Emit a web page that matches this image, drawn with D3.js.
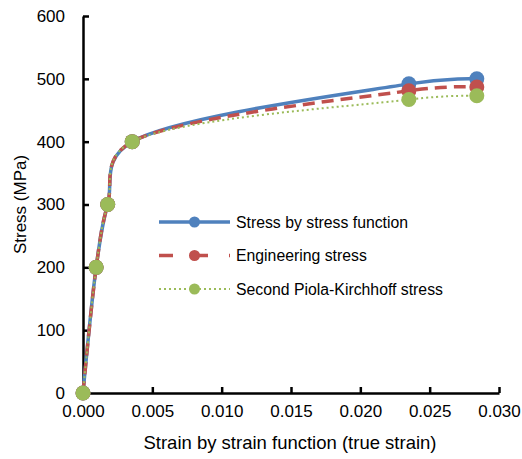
<html>
<head>
  <script src="https://d3js.org/d3.v7.min.js"></script>
  <style>
    body { margin: 0; padding: 0; background: white; overflow: hidden; }
    svg { font-family: "Liberation Sans", Arial, sans-serif; }
  </style>
</head>
<body>
  <svg width="522" height="459"></svg>
  <script>
    // strain values (true strain)
    const strain = [0, 0.00095, 0.00178, 0.00355, 0.0235, 0.0284];
    const stressFunction = [0, 200, 300, 400, 492, 500];
    const engineeringStress = [0, 200, 300, 400, 481, 487];
    const piolaStress = [0, 200, 300, 400, 467, 473];
    const xTicks = [0, 0.005, 0.010, 0.015, 0.020, 0.025, 0.030];
    const yTicks = [0, 100, 200, 300, 400, 500, 600];

    const seriesNames = ["Stress by stress function", "Engineering stress", "Second Piola-Kirchhoff stress"];

    const svg = d3.select("svg"),
          margin = { top: 16, right: 23, bottom: 66, left: 83 },
          width = +svg.attr("width") - margin.left - margin.right,
          height = +svg.attr("height") - margin.top - margin.bottom,
          g = svg.append("g").attr("transform", "translate(" + margin.left + "," + margin.top + ")");

    const xScale = d3.scaleLinear().domain([0, 0.030]).range([0, width]);
    const yScale = d3.scaleLinear().domain([0, 600]).range([height, 0]);

    const series = [
      { name: seriesNames[0], values: stressFunction, color: "#4F81BD", width: 3.5, dash: null },
      { name: seriesNames[1], values: engineeringStress, color: "#C0504D", width: 3.5, dash: "12,7" },
      { name: seriesNames[2], values: piolaStress, color: "#9BBB59", width: 2, dash: "2,3" }
    ];

    // smoothed line, close to Excel's
    const line = d3.line()
        .x(d => xScale(d[0]))
        .y(d => yScale(d[1]))
        .curve(d3.curveCatmullRom.alpha(0.25));

    // Draw the x-axis
    const xAxis = g.append("g")
        .attr("transform", "translate(0," + height + ")")
        .call(d3.axisBottom(xScale).tickValues(xTicks).tickFormat(d3.format(".3f")).tickSizeInner(-6).tickSizeOuter(0).tickPadding(12));

    // Draw the y-axis
    const yAxis = g.append("g")
        .call(d3.axisLeft(yScale).tickValues(yTicks).tickSizeInner(-6).tickSizeOuter(0).tickPadding(18));

    [xAxis, yAxis].forEach(a => {
      a.select(".domain").attr("stroke", "#000").attr("stroke-width", 2.5);
      a.selectAll(".tick line").attr("stroke", "#000").attr("stroke-width", 2.5);
      a.selectAll(".tick text").attr("font-size", 17).attr("fill", "#000")
        .attr("font-family", "Liberation Sans, Arial, sans-serif");
    });

    // Lines
    series.forEach(s => {
      const pts = strain.map((x, i) => [x, s.values[i]]);
      g.append("path")
        .datum(pts)
        .attr("fill", "none")
        .attr("stroke", s.color)
        .attr("stroke-width", s.width)
        .attr("stroke-dasharray", s.dash)
        .attr("d", line);
    });

    // Markers
    series.forEach(s => {
      g.selectAll(null)
        .data(strain.map((x, i) => [x, s.values[i]]))
        .enter().append("circle")
        .attr("cx", d => xScale(d[0]))
        .attr("cy", d => yScale(d[1]))
        .attr("r", 7.5)
        .attr("fill", s.color);
    });

    // Legend
    const legend = g.append("g").attr("transform", "translate(76,206)");
    series.forEach((s, i) => {
      const row = legend.append("g").attr("transform", "translate(0," + (i * 33.5) + ")");
      row.append("line")
        .attr("x1", 0).attr("x2", 71)
        .attr("stroke", s.color)
        .attr("stroke-width", s.width)
        .attr("stroke-dasharray", i === 1 ? "14,21" : s.dash);
      row.append("circle").attr("cx", 35.5).attr("r", 5.5).attr("fill", s.color);
      row.append("text")
        .attr("x", 77).attr("dy", "0.35em")
        .attr("font-size", 15.8)
        .text(s.name);
    });

    // Axis labels
    g.append("text")
      .attr("transform", "rotate(-90)")
      .attr("x", -(height / 2))
      .attr("y", -57)
      .attr("text-anchor", "middle")
      .attr("font-size", 17)
      .text("Stress (MPa)");

    g.append("text")
      .attr("x", width / 2 - 1)
      .attr("y", height + 56)
      .attr("text-anchor", "middle")
      .attr("font-size", 18.5)
      .text("Strain by strain function (true strain)");
  </script>
</body>
</html>
